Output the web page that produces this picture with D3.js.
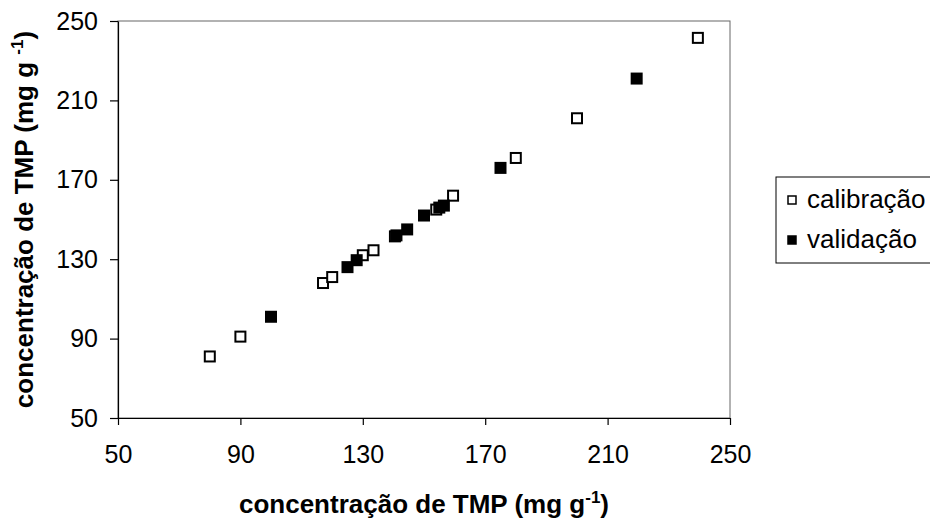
<!DOCTYPE html>
<html><head><meta charset="utf-8">
<script src="https://cdn.jsdelivr.net/npm/d3@7"></script>
<style>body{margin:0;background:#fff}svg{display:block}</style></head>
<body><svg id="c" width="930" height="523"></svg>
<script>
const calX=[80,90,117,120,130,133.5,140.5,154,159.5,180,200,239.5];
const calY=[81,91,118,121,132,134.5,141.5,155,162,181,201,241.5];
const valX=[100,125,128,141,144.5,150,155,156.5,175,219.5];
const valY=[101,126,129.5,142,145,152,156,157,176,221];
const tickVals=[50,90,130,170,210,250];
const seriesNames=["calibração","validação"];

const svg=d3.select("#c");
const L=118,R=730,T=21,B=418;
const x=d3.scaleLinear().domain([50,250]).range([L,R]);
const y=d3.scaleLinear().domain([50,250]).range([B,T]);
const font="Liberation Sans, Arial, sans-serif";

// plot border
svg.append("rect").attr("x",L).attr("y",T).attr("width",R-L).attr("height",B-T)
  .attr("fill","none").attr("stroke","#666").attr("stroke-width",1);

const xa=svg.append("g").attr("transform",`translate(0,${B})`)
  .call(d3.axisBottom(x).tickValues(tickVals).tickSize(7).tickPadding(20).tickSizeOuter(0));
const ya=svg.append("g").attr("transform",`translate(${L},0)`)
  .call(d3.axisLeft(y).tickValues(tickVals).tickSize(8).tickPadding(12).tickSizeOuter(0));
[xa,ya].forEach(a=>{
  a.selectAll("path,line").attr("stroke","#000").attr("stroke-width",1.2);
  a.selectAll("text").attr("font-family",font).attr("font-size",25).attr("fill","#000");
});

const cal=calX.map((v,i)=>[v,calY[i]]);
const val=valX.map((v,i)=>[v,valY[i]]);
const s=10;
svg.append("g").selectAll("rect").data(cal).join("rect")
  .attr("x",d=>x(d[0])-s/2).attr("y",d=>y(d[1])-s/2).attr("width",s).attr("height",s)
  .attr("fill","#fff").attr("stroke","#000").attr("stroke-width",2);
svg.append("g").selectAll("rect").data(val).join("rect")
  .attr("x",d=>x(d[0])-s/2).attr("y",d=>y(d[1])-s/2).attr("width",s).attr("height",s)
  .attr("fill","#000").attr("stroke","#000").attr("stroke-width",2);

// axis titles
const xt=svg.append("text").attr("x",(L+R)/2).attr("y",513).attr("text-anchor","middle")
  .attr("font-family",font).attr("font-size",26).attr("font-weight","bold");
xt.append("tspan").text("concentração de TMP (mg g");
xt.append("tspan").attr("dy",-10).attr("font-size",17).text("-1");
xt.append("tspan").attr("dy",10).text(")");

const yt=svg.append("text").attr("transform",`translate(33,${(T+B)/2}) rotate(-90)`).attr("text-anchor","middle")
  .attr("font-family",font).attr("font-size",26).attr("font-weight","bold");
yt.append("tspan").text("concentração de TMP (mg g ");
yt.append("tspan").attr("dy",-10).attr("font-size",17).text("-1");
yt.append("tspan").attr("dy",10).text(")");

// legend
const lg=svg.append("g");
lg.append("rect").attr("x",776).attr("y",177).attr("width",170).attr("height",86)
  .attr("fill","#fff").attr("stroke","#000").attr("stroke-width",1);
seriesNames.forEach((n,i)=>{
  const cy=200+i*40;
  lg.append("rect").attr("x",788).attr("y",cy-4).attr("width",8).attr("height",8)
    .attr("fill",i===0?"#fff":"#000").attr("stroke","#000").attr("stroke-width",1.5);
  lg.append("text").attr("x",807).attr("y",cy+8).attr("font-family",font).attr("font-size",26).text(n);
});
</script></body></html>
